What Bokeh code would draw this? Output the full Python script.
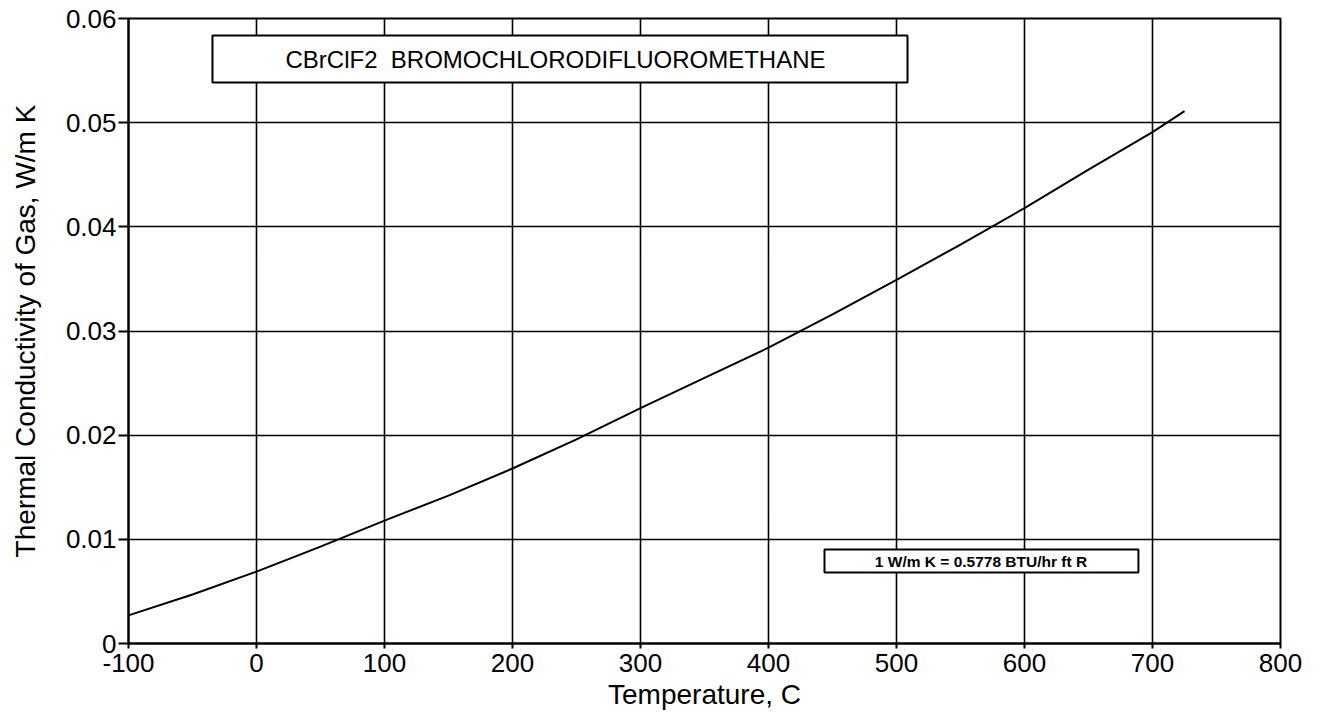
from bokeh.plotting import figure
from bokeh.models import FixedTicker, Range1d, Label
from bokeh.embed import file_html
from bokeh.resources import INLINE

temp_c = [-100, -50, 0, 50, 100, 150, 200, 250, 300, 350, 400, 450, 500, 550, 600, 650, 700, 725]
k_gas = [0.0027, 0.0047, 0.0069, 0.0093, 0.0118, 0.0142, 0.0168, 0.0196, 0.0226, 0.0255, 0.0284, 0.0316, 0.0349, 0.0383, 0.0418, 0.0455, 0.0491, 0.0511]

x_ticks = [-100, 0, 100, 200, 300, 400, 500, 600, 700, 800]
x_tick_labels = ["-100", "0", "100", "200", "300", "400", "500", "600", "700", "800"]
y_ticks = [0, 0.01, 0.02, 0.03, 0.04, 0.05, 0.06]
y_tick_labels = ["0", "0.01", "0.02", "0.03", "0.04", "0.05", "0.06"]

title_text = "CBrClF2\u00a0 BROMOCHLORODIFLUOROMETHANE"
note_text = "1 W/m K = 0.5778 BTU/hr ft R"

FONT = "Liberation Sans"

p = figure(width=1310, height=712, output_backend="svg", toolbar_location=None,
           x_range=Range1d(-100, 800), y_range=Range1d(0, 0.06),
           min_border_left=128, min_border_right=30, min_border_top=18, min_border_bottom=69)

p.outline_line_color = "black"
p.outline_line_width = 2
p.outline_line_alpha = 1

for ax in (p.xaxis[0], p.yaxis[0]):
    ax.axis_line_color = "black"
    ax.axis_line_width = 2
    ax.major_tick_line_color = "black"
    ax.major_tick_line_width = 2
    ax.major_tick_in = 0
    ax.minor_tick_line_color = None
    ax.major_label_text_font = FONT
    ax.major_label_text_font_size = "26px"
    ax.major_label_text_color = "black"
    ax.axis_label_text_font = FONT
    ax.axis_label_text_font_size = "28px"
    ax.axis_label_text_font_style = "normal"
    ax.axis_label_text_color = "black"

p.xaxis.major_tick_out = 5
p.yaxis.major_tick_out = 10
p.xaxis.ticker = FixedTicker(ticks=x_ticks)
p.yaxis.ticker = FixedTicker(ticks=y_ticks)
p.xaxis.major_label_overrides = {t: l for t, l in zip(x_ticks, x_tick_labels)}
p.yaxis.major_label_overrides = {t: l for t, l in zip(y_ticks, y_tick_labels)}
p.xaxis.major_label_standoff = 5
p.yaxis.major_label_standoff = 2
p.xaxis.axis_label = "Temperature, C"
p.yaxis.axis_label = "Thermal Conductivity of Gas, W/m K"
p.xaxis.axis_label_standoff = 4
p.yaxis.axis_label_standoff = 22

p.xgrid.ticker = FixedTicker(ticks=x_ticks)
p.ygrid.ticker = FixedTicker(ticks=y_ticks)
for g in (p.xgrid[0], p.ygrid[0]):
    g.grid_line_color = "black"
    g.grid_line_width = 1.6
    g.grid_line_alpha = 1

p.line(temp_c, k_gas, line_color="black", line_width=2)

# Title box
p.quad(left=[-34.4], right=[508.6], bottom=[0.05385], top=[0.05837],
       fill_color="white", line_color="black", line_width=2)
p.add_layout(Label(x=233.6, y=0.0561, text=title_text, text_align="center", text_baseline="middle",
                   text_font=FONT, text_font_size="24px", text_color="black"))

# Note box
p.quad(left=[443.75], right=[689], bottom=[0.00682], top=[0.00902],
       fill_color="white", line_color="black", line_width=2)
p.add_layout(Label(x=566, y=0.0079, text=note_text, text_align="center", text_baseline="middle",
                   text_font=FONT, text_font_size="15.5px", text_font_style="bold", text_color="black"))

open("out.html", "w").write(file_html(p, INLINE))
